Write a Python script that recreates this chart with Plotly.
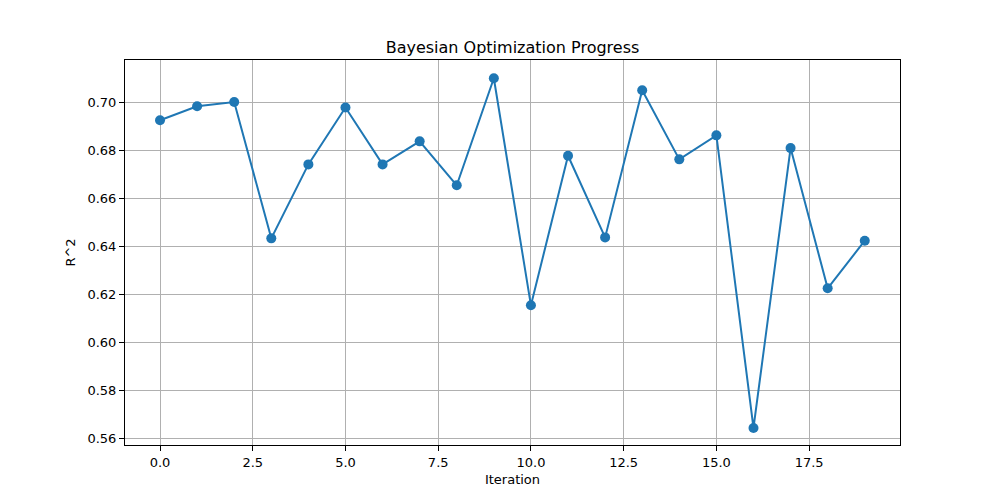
import plotly.graph_objects as go

iterations = list(range(20))
r2_scores = [0.6924, 0.6982, 0.7000, 0.6432, 0.6740, 0.6977, 0.6740, 0.6836, 0.6653, 0.7099,
             0.6153, 0.6776, 0.6436, 0.7049, 0.6761, 0.6861, 0.5642, 0.6808, 0.6224, 0.6422]

fig = go.Figure()
fig.add_trace(go.Scatter(
    x=iterations, y=r2_scores, mode="lines+markers",
    line=dict(color="#1f77b4", width=2),
    marker=dict(color="#1f77b4", size=10),
    showlegend=False,
))

axis_style = dict(
    showline=True, linecolor="black", linewidth=1, mirror=True,
    ticks="outside", ticklen=5, tickwidth=1, tickcolor="black",
    showgrid=True, gridcolor="#b0b0b0", gridwidth=1,
    zeroline=False,
    tickfont=dict(family="DejaVu Sans", size=13, color="black"),
)

# page body adds an 8px offset, so margins are shifted to compensate
fig.update_layout(
    width=1000, height=500,
    margin=dict(l=117, r=108, t=52, b=63),
    paper_bgcolor="white", plot_bgcolor="white",
    font=dict(family="DejaVu Sans", size=13, color="black"),
    title=dict(text="Bayesian Optimization Progress", x=0.5045, xanchor="center",
               yref="container", y=0.922, yanchor="middle",
               font=dict(family="DejaVu Sans", size=16, color="black")),
    xaxis=dict(axis_style, range=[-0.944, 19.95], dtick=2.5, tick0=0, tickformat=".1f",
               title=dict(text="Iteration", standoff=6,
                          font=dict(family="DejaVu Sans", size=13))),
    yaxis=dict(axis_style, range=[0.5571, 0.7175], dtick=0.02, tick0=0.56, tickformat=".2f",
               title=dict(text="R^2", standoff=8,
                          font=dict(family="DejaVu Sans", size=13))),
)

fig.write_html("out.html")
